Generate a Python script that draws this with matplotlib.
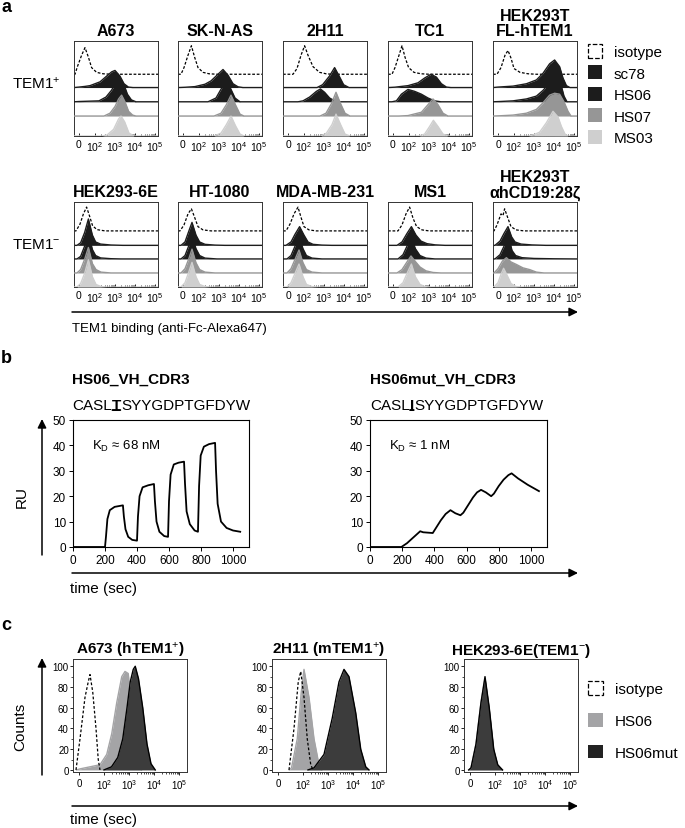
import numpy as np
import matplotlib
matplotlib.use("Agg")
import matplotlib.pyplot as plt
from matplotlib.patches import Patch

plt.rcParams['font.family'] = ['Liberation Sans', 'DejaVu Sans']
plt.rcParams['mathtext.fontset'] = 'custom'
plt.rcParams['mathtext.rm'] = 'Liberation Sans'
plt.rcParams['mathtext.it'] = 'Liberation Sans:italic'
plt.rcParams['mathtext.bf'] = 'Liberation Sans:bold'

# ---------------- data: panel a (flow histograms, x in decades, height in lane units)
a_series = ['isotype', 'sc78', 'HS06', 'HS07', 'MS03']
a_titles = ['A673', 'SK-N-AS', '2H11', 'TC1', 'HEK293T\nFL-hTEM1',
            'HEK293-6E', 'HT-1080', 'MDA-MB-231', 'MS1', 'HEK293T\nαhCD19:28ζ']
flow_ticklabels = ['0', '$10^2$', '$10^3$', '$10^4$', '$10^5$']

a673 = {
    'isotype': [(1.0, 0), (1.12, 0.08), (1.33, 0.2), (1.5, 0.28), (1.67, 0.18), (1.83, 0.07), (2.08, 0.02), (2.4, 0.005), (2.8, 0)],
    'sc78': [(1.2, 0.005), (1.5, 0.012), (1.75, 0.02), (2.25, 0.06), (2.58, 0.12), (2.83, 0.165), (3.0, 0.18), (3.25, 0.12), (3.45, 0.04), (3.67, 0.005), (3.9, 0)],
    'HS06': [(1.2, 0.003), (2.2, 0.01), (2.55, 0.05), (2.82, 0.12), (3.05, 0.2), (3.25, 0.23), (3.45, 0.18), (3.62, 0.08), (3.82, 0.02), (4.05, 0)],
    'HS07': [(2.45, 0), (2.75, 0.03), (3.0, 0.1), (3.18, 0.18), (3.33, 0.22), (3.5, 0.15), (3.68, 0.05), (3.88, 0.01), (4.05, 0)],
    'MS03': [(2.35, 0), (2.6, 0.01), (2.93, 0.07), (3.18, 0.18), (3.3, 0.21), (3.48, 0.15), (3.7, 0.03), (3.95, 0)],
}
sknas = {
    'isotype': [(1.1, 0), (1.25, 0.07), (1.45, 0.2), (1.62, 0.3), (1.78, 0.18), (1.95, 0.07), (2.2, 0.02), (2.5, 0.005), (2.9, 0)],
    'sc78': [(1.3, 0.003), (1.8, 0.01), (2.3, 0.035), (2.6, 0.07), (2.95, 0.14), (3.2, 0.19), (3.45, 0.13), (3.7, 0.04), (3.95, 0.008), (4.2, 0)],
    'HS06': [(2.45, 0), (2.85, 0.04), (3.12, 0.14), (3.35, 0.25), (3.58, 0.14), (3.8, 0.04), (4.05, 0)],
    'HS07': [(2.75, 0), (3.1, 0.03), (3.37, 0.12), (3.6, 0.22), (3.82, 0.12), (4.05, 0.02), (4.25, 0)],
    'MS03': [(2.75, 0), (3.1, 0.03), (3.37, 0.12), (3.6, 0.21), (3.82, 0.11), (4.05, 0.02), (4.25, 0)],
}
h2h11 = {
    'isotype': [(1.45, 0), (1.65, 0.06), (1.85, 0.2), (2.03, 0.3), (2.2, 0.2), (2.45, 0.08), (2.78, 0.02), (3.1, 0.005), (3.4, 0)],
    'sc78': [(2.65, 0), (2.93, 0.03), (3.27, 0.12), (3.53, 0.21), (3.76, 0.12), (3.98, 0.03), (4.25, 0)],
    'HS06': [(1.7, 0), (1.95, 0.01), (2.28, 0.05), (2.62, 0.11), (2.82, 0.135), (3.03, 0.1), (3.28, 0.04), (3.53, 0.01), (3.8, 0)],
    'HS07': [(2.8, 0), (3.1, 0.03), (3.37, 0.13), (3.6, 0.25), (3.83, 0.13), (4.05, 0.03), (4.3, 0)],
    'MS03': [(2.85, 0), (3.12, 0.03), (3.4, 0.12), (3.6, 0.23), (3.83, 0.12), (4.05, 0.02), (4.3, 0)],
}
tc1 = {
    'isotype': [(1.15, 0), (1.3, 0.07), (1.5, 0.2), (1.65, 0.3), (1.8, 0.18), (1.98, 0.07), (2.25, 0.02), (2.6, 0.005), (3.0, 0)],
    'sc78': [(1.3, 0.004), (1.95, 0.02), (2.45, 0.05), (2.78, 0.1), (3.1, 0.14), (3.37, 0.11), (3.62, 0.04), (3.87, 0.005), (4.1, 0)],
    'HS06': [(1.15, 0), (1.37, 0.01), (1.62, 0.08), (1.95, 0.13), (2.28, 0.11), (2.62, 0.08), (2.95, 0.04), (3.28, 0.01), (3.6, 0)],
    'HS07': [(1.5, 0), (1.95, 0.005), (2.62, 0.04), (2.95, 0.12), (3.2, 0.18), (3.45, 0.12), (3.7, 0.03), (3.95, 0)],
    'MS03': [(2.5, 0), (2.78, 0.02), (3.03, 0.1), (3.22, 0.165), (3.45, 0.1), (3.7, 0.02), (3.95, 0)],
}
hek_fl = {
    'isotype': [(1.15, 0), (1.35, 0.07), (1.55, 0.2), (1.7, 0.25), (1.85, 0.17), (2.0, 0.06), (2.3, 0.02), (2.7, 0.005), (3.1, 0)],
    'sc78': [(1.2, 0.005), (1.95, 0.015), (2.62, 0.04), (3.12, 0.08), (3.45, 0.15), (3.78, 0.25), (4.03, 0.29), (4.28, 0.22), (4.45, 0.1), (4.62, 0.02), (4.8, 0)],
    'HS06': [(1.3, 0.003), (1.95, 0.01), (2.62, 0.03), (3.12, 0.06), (3.45, 0.12), (3.78, 0.2), (4.1, 0.25), (4.35, 0.18), (4.5, 0.06), (4.65, 0)],
    'HS07': [(1.3, 0.003), (1.95, 0.01), (2.62, 0.03), (3.12, 0.07), (3.45, 0.14), (3.78, 0.22), (4.03, 0.24), (4.28, 0.23), (4.5, 0.15), (4.7, 0.05), (4.85, 0)],
    'MS03': [(2.7, 0), (2.95, 0.01), (3.28, 0.04), (3.62, 0.14), (3.95, 0.26), (4.2, 0.2), (4.37, 0.1), (4.55, 0.02), (4.7, 0)],
}
hek6e = {
    'isotype': [(1.05, 0), (1.25, 0.08), (1.42, 0.2), (1.58, 0.28), (1.72, 0.18), (1.88, 0.06), (2.1, 0.015), (2.5, 0)],
    'sc78': [(1.1, 0), (1.28, 0.03), (1.48, 0.15), (1.67, 0.31), (1.87, 0.12), (2.03, 0.04), (2.28, 0.015), (2.8, 0.004), (3.4, 0)],
    'HS06': [(1.1, 0), (1.28, 0.03), (1.48, 0.15), (1.67, 0.3), (1.87, 0.11), (2.03, 0.04), (2.28, 0.012), (2.8, 0.003), (3.3, 0)],
    'HS07': [(1.1, 0), (1.28, 0.04), (1.48, 0.16), (1.67, 0.3), (1.87, 0.11), (2.05, 0.04), (2.3, 0.01), (2.8, 0)],
    'MS03': [(1.1, 0), (1.28, 0.04), (1.48, 0.16), (1.67, 0.32), (1.87, 0.12), (2.05, 0.03), (2.3, 0.005), (2.6, 0)],
}
ht1080 = {
    'isotype': [(1.05, 0), (1.25, 0.07), (1.45, 0.2), (1.62, 0.26), (1.78, 0.16), (1.95, 0.05), (2.2, 0.012), (2.6, 0)],
    'sc78': [(1.1, 0), (1.3, 0.04), (1.48, 0.16), (1.65, 0.27), (1.85, 0.12), (2.03, 0.04), (2.3, 0.012), (2.8, 0.003), (3.3, 0)],
    'HS06': [(1.1, 0), (1.3, 0.04), (1.48, 0.15), (1.65, 0.27), (1.85, 0.12), (2.03, 0.04), (2.3, 0.01), (2.9, 0)],
    'HS07': [(1.1, 0), (1.3, 0.05), (1.48, 0.16), (1.65, 0.28), (1.85, 0.12), (2.03, 0.04), (2.3, 0.01), (2.8, 0)],
    'MS03': [(1.1, 0), (1.3, 0.05), (1.48, 0.17), (1.65, 0.29), (1.85, 0.12), (2.03, 0.03), (2.3, 0.005), (2.6, 0)],
}
mdamb231 = {
    'isotype': [(1.1, 0), (1.3, 0.08), (1.5, 0.2), (1.7, 0.28), (1.85, 0.16), (2.0, 0.05), (2.25, 0.012), (2.6, 0)],
    'sc78': [(1.1, 0), (1.35, 0.04), (1.55, 0.13), (1.78, 0.22), (2.0, 0.12), (2.2, 0.04), (2.45, 0.012), (2.9, 0.003), (3.4, 0)],
    'HS06': [(1.15, 0), (1.35, 0.04), (1.55, 0.15), (1.75, 0.26), (1.95, 0.12), (2.12, 0.04), (2.4, 0.01), (2.9, 0)],
    'HS07': [(1.15, 0), (1.35, 0.05), (1.55, 0.16), (1.75, 0.27), (1.95, 0.12), (2.12, 0.04), (2.4, 0.01), (2.9, 0)],
    'MS03': [(1.15, 0), (1.35, 0.05), (1.55, 0.16), (1.75, 0.27), (1.95, 0.12), (2.12, 0.03), (2.4, 0.005), (2.7, 0)],
}
ms1 = {
    'isotype': [(1.45, 0), (1.65, 0.07), (1.85, 0.2), (2.03, 0.28), (2.2, 0.15), (2.38, 0.05), (2.65, 0.012), (3.0, 0)],
    'sc78': [(1.4, 0), (1.65, 0.04), (1.9, 0.14), (2.12, 0.22), (2.35, 0.12), (2.6, 0.05), (2.9, 0.02), (3.3, 0.006), (3.8, 0)],
    'HS06': [(1.45, 0), (1.7, 0.05), (1.92, 0.16), (2.12, 0.25), (2.32, 0.12), (2.55, 0.04), (2.85, 0.01), (3.3, 0)],
    'HS07': [(1.4, 0), (1.65, 0.04), (1.9, 0.13), (2.1, 0.2), (2.3, 0.14), (2.55, 0.07), (2.85, 0.025), (3.2, 0.006), (3.6, 0)],
    'MS03': [(1.45, 0), (1.7, 0.05), (1.92, 0.17), (2.12, 0.27), (2.32, 0.12), (2.55, 0.03), (2.8, 0.005), (3.1, 0)],
}
hek_cd19 = {
    'isotype': [(1.0, 0), (1.15, 0.07), (1.35, 0.2), (1.45, 0.18), (1.53, 0.26), (1.68, 0.16), (1.85, 0.05), (2.1, 0.012), (2.5, 0)],
    'sc78': [(1.05, 0), (1.3, 0.05), (1.5, 0.14), (1.7, 0.22), (1.88, 0.1), (2.05, 0.04), (2.35, 0.015), (2.9, 0.005), (3.6, 0)],
    'HS06': [(1.05, 0), (1.3, 0.05), (1.5, 0.15), (1.72, 0.27), (1.9, 0.1), (2.08, 0.04), (2.4, 0.015), (3.0, 0.006), (4.0, 0.002), (5.1, 0)],
    'HS07': [(1.0, 0), (1.2, 0.05), (1.42, 0.14), (1.62, 0.18), (1.85, 0.13), (2.12, 0.1), (2.45, 0.06), (2.78, 0.04), (3.12, 0.01), (3.5, 0)],
    'MS03': [(1.0, 0), (1.2, 0.05), (1.35, 0.15), (1.48, 0.22), (1.65, 0.14), (1.85, 0.04), (2.1, 0.005), (2.4, 0)],
}
a_panels = [a673, sknas, h2h11, tc1, hek_fl, hek6e, ht1080, mdamb231, ms1, hek_cd19]

# ---------------- data: panel b (SPR sensorgrams)
t_hs06 = [0, 200, 206, 215, 230, 260, 312, 318, 328, 345, 370, 400, 406, 416, 435, 470, 506, 512, 522, 540,
          570, 594, 600, 610, 630, 660, 694, 700, 710, 730, 760, 781, 788, 798, 818, 850, 888, 894, 904, 925,
          960, 1000, 1045]
ru_hs06 = [0, 0, 4, 11, 14.5, 15.8, 16.4, 12, 7, 4, 2.8, 2.5, 12, 20, 23.5, 24.3, 24.8, 18, 10, 6,
           4.3, 4, 18, 28.5, 32.5, 33.2, 33.6, 25, 14, 9, 6.5, 6, 24, 36, 39.5, 40.5, 41, 30, 17, 10,
           7.5, 6.5, 6]
t_hs06mut = [0, 195, 230, 270, 312, 330, 390, 410, 440, 470, 500, 530, 562, 580, 610, 640, 665, 690, 720,
             753, 770, 800, 830, 860, 880, 920, 980, 1050]
ru_hs06mut = [0, 0, 1.5, 3.8, 6.2, 5.8, 5.5, 7.5, 10.5, 13, 14.5, 13.3, 12.5, 13.5, 16.5, 19.5, 21.5, 22.5, 21.5,
              20, 21, 24, 26.5, 28.3, 29, 27, 24.5, 22]

# ---------------- data: panel c (flow overlays, counts)
c_titles = ['A673 (hTEM1$^{+}$)', '2H11 (mTEM1$^{+}$)', 'HEK293-6E(TEM1$^{-}$)']
c_a673 = {
    'HS06': [(0.9, 0), (1.04, 1), (1.84, 5), (2.11, 15), (2.31, 35), (2.51, 65), (2.71, 90), (2.84, 95), (2.97, 93), (3.11, 60), (3.24, 25), (3.37, 5), (3.5, 0)],
    'HS06mut': [(2.0, 0), (2.3, 3), (2.55, 12), (2.75, 30), (2.92, 60), (3.05, 85), (3.17, 97), (3.25, 100), (3.38, 88), (3.55, 60), (3.72, 25), (3.88, 6), (4.05, 0)],
    'isotype': [(0.88, 0), (1.04, 30), (1.24, 70), (1.37, 85), (1.44, 92), (1.55, 75), (1.68, 40), (1.77, 10), (1.84, 0)],
}
c_2h11 = {
    'HS06': [(1.45, 0), (1.54, 2), (1.77, 30), (1.93, 75), (2.04, 97), (2.24, 70), (2.44, 30), (2.64, 5), (2.75, 0)],
    'HS06mut': [(2.2, 0), (2.44, 2), (2.84, 15), (3.17, 50), (3.44, 85), (3.64, 97), (3.84, 90), (4.11, 55), (4.31, 20), (4.51, 3), (4.64, 0)],
    'isotype': [(1.44, 0), (1.64, 40), (1.81, 85), (1.91, 95), (2.04, 70), (2.17, 30), (2.31, 5), (2.4, 0)],
}
c_hek6e = {
    'HS06': [(0.95, 0), (1.04, 2), (1.24, 25), (1.44, 65), (1.6, 88), (1.77, 58), (1.95, 18), (2.11, 4), (2.3, 0)],
    'HS06mut': [(0.95, 0), (1.04, 2), (1.24, 25), (1.44, 65), (1.6, 90), (1.77, 60), (1.95, 20), (2.11, 5), (2.3, 0)],
    'isotype': [(0.95, 0), (1.1, 5), (1.3, 35), (1.5, 75), (1.6, 85), (1.75, 55), (1.92, 15), (2.1, 2), (2.25, 0)],
}
c_panels = [c_a673, c_2h11, c_hek6e]

# ---------------- layout helpers (pixels of a 685 x 829 figure)
W, H = 685, 829


def box(l, t, r, b):
    return [l / W, 1 - b / H, (r - l) / W, (b - t) / H]


fig = plt.figure(figsize=(W / 100, H / 100), dpi=100)

a_colors = {'sc78': '#1c1c1c', 'HS06': '#1c1c1c', 'HS07': '#969696', 'MS03': '#cfcfcf'}
a_offsets = [[0.65, 0.51, 0.36, 0.21, 0.0], [0.66, 0.49, 0.33, 0.165, 0.0]]
A_XLIM = (0.95, 5.15)
a_lefts = [74, 178, 283, 388, 493]
a_rows = [(42, 137), (203, 288)]
minor_log = [k + np.log10(m) for k in (2, 3, 4) for m in range(2, 10)]

for i, curves in enumerate(a_panels):
    row, col = divmod(i, 5)
    top, bottom = a_rows[row]
    ax = fig.add_axes(box(a_lefts[col], top, a_lefts[col] + 84, bottom))
    for z, (s, off) in enumerate(zip(a_series, a_offsets[row])):
        pts = curves[s]
        xs = [A_XLIM[0]] + [p[0] for p in pts] + [A_XLIM[1]]
        ys = off + np.array([0] + [p[1] for p in pts] + [0])
        if s == 'isotype':
            ax.plot(xs, ys, color='k', lw=0.9, dashes=(2.2, 1.4), zorder=z + 1)
        else:
            ax.fill_between(xs, off, ys, color=a_colors[s], lw=0, zorder=z + 1)
            ax.plot(xs, ys, color=a_colors[s], lw=1.0, zorder=z + 1)
    ax.set_xlim(*A_XLIM)
    ax.set_ylim(0, 1)
    ax.set_yticks([])
    ax.set_xticks([1.2, 2, 3, 4, 5])
    ax.set_xticklabels(flow_ticklabels, fontsize=7.5)
    ax.set_xticks(minor_log, minor=True)
    ax.tick_params(axis='x', which='major', direction='in', length=2, width=0.6, pad=2.5)
    ax.tick_params(axis='x', which='minor', direction='in', length=1.2, width=0.5)
    for sp in ax.spines.values():
        sp.set_linewidth(0.7)
        sp.set_color('#333333')
    ax.set_title(a_titles[i], fontsize=11.5, fontweight='bold', pad=4, linespacing=1.05)

a_handles = [Patch(facecolor='white', edgecolor='k', linestyle='--', lw=0.9),
             Patch(facecolor='#1c1c1c'), Patch(facecolor='#1c1c1c'),
             Patch(facecolor='#969696'), Patch(facecolor='#cfcfcf')]
fig.legend(a_handles, a_series, loc='upper left', bbox_to_anchor=(588 / W, 1 - 45 / H),
           frameon=False, fontsize=11, handlelength=0.9, handleheight=1.0,
           labelspacing=0.42, handletextpad=0.8, borderpad=0, borderaxespad=0)

# ---------------- panel b
b_sets = [(t_hs06, ru_hs06, (73, 421, 249, 548), 'K$_\\mathregular{D}$ ≈ 68 nM'),
          (t_hs06mut, ru_hs06mut, (370, 421, 547, 548), 'K$_\\mathregular{D}$ ≈ 1 nM')]
for t, ru, rect, kd in b_sets:
    ax = fig.add_axes(box(*rect))
    ax.plot(t, ru, color='k', lw=1.3)
    ax.set_xlim(0, 1100)
    ax.set_ylim(0, 50)
    ax.set_xticks(range(0, 1001, 200))
    ax.set_yticks(range(0, 51, 10))
    ax.tick_params(labelsize=8.5, length=3, width=0.7, pad=2)
    for sp in ax.spines.values():
        sp.set_linewidth(0.8)
    ax.text(0.11, 0.8, kd, transform=ax.transAxes, fontsize=9.5, va='center')

# ---------------- panel c
c_colors = {'HS06': '#a4a4a6', 'HS06mut': '#3c3c3c'}
C_XLIM = (0.76, 5.32)
c_lefts = [73, 272, 464]
for i, curves in enumerate(c_panels):
    ax = fig.add_axes(box(c_lefts[i], 660, c_lefts[i] + 114, 773))
    for z, s in enumerate(['HS06', 'HS06mut']):
        pts = curves[s]
        xs = [p[0] for p in pts]
        ys = [p[1] for p in pts]
        ax.fill_between(xs, 0, ys, color=c_colors[s], lw=0, zorder=2 * z + 1)
        ax.plot(xs, ys, color='k' if s == 'HS06mut' else c_colors[s], lw=1.0, zorder=2 * z + 2)
    if i < 2:
        pts = curves['isotype']
        ax.plot([p[0] for p in pts], [p[1] for p in pts], color='k', lw=0.9,
                dashes=(2.2, 1.6), zorder=6)
    ax.set_xlim(*C_XLIM)
    ax.set_ylim(-2, 107)
    ax.set_xticks([1, 2, 3, 4, 5])
    ax.set_xticklabels(flow_ticklabels, fontsize=7)
    ax.set_xticks(minor_log, minor=True)
    ax.set_yticks(range(0, 101, 20))
    ax.set_yticks(range(0, 101, 10), minor=True)
    ax.tick_params(axis='y', labelsize=7, length=2, width=0.6, pad=1)
    ax.tick_params(axis='x', length=2, width=0.6, pad=2)
    ax.tick_params(which='minor', length=1.2, width=0.5)
    for sp in ax.spines.values():
        sp.set_linewidth(0.7)
        sp.set_color('#333333')
    ax.set_title(c_titles[i], fontsize=11, fontweight='bold', pad=3)

c_handles = [Patch(facecolor='white', edgecolor='k', linestyle='--', lw=0.9),
             Patch(facecolor='#a4a4a6'), Patch(facecolor='#222222')]
fig.legend(c_handles, ['isotype', 'HS06', 'HS06mut'], loc='upper left',
           bbox_to_anchor=(588 / W, 1 - 682 / H), frameon=False, fontsize=11,
           handlelength=0.95, handleheight=1.0, labelspacing=1.1,
           handletextpad=0.8, borderpad=0, borderaxespad=0)

# ---------------- overlay: panel letters, arrows and free text
ov = fig.add_axes([0, 0, 1, 1])
ov.set_xlim(0, W)
ov.set_ylim(H, 0)
ov.axis('off')
arrow = dict(arrowstyle='-|>', color='k', lw=1.1, mutation_scale=13, shrinkA=0, shrinkB=0)

for letter, y in [('a', 7), ('b', 358), ('c', 626)]:
    ov.text(1, y, letter, fontsize=13, fontweight='bold', va='center')

ov.text(12, 84, 'TEM1$^{+}$', fontsize=11, va='center')
ov.text(12, 245, 'TEM1$^{-}$', fontsize=11, va='center')
ov.annotate('', xy=(578, 313), xytext=(72, 313), arrowprops=arrow)
ov.text(72, 329, 'TEM1 binding (anti-Fc-Alexa647)', fontsize=9.5, va='center')

# panel b headers with the underlined residue
for x0, title, pre, res, post in [(72, 'HS06_VH_CDR3', 'CASL', 'T', 'SYYGDPTGFDYW'),
                                  (370, 'HS06mut_VH_CDR3', 'CASL', 'I', 'SYYGDPTGFDYW')]:
    ov.text(x0, 380, title, fontsize=11, fontweight='bold', va='center')
    t1 = ov.text(x0, 410, pre, fontsize=11, va='baseline')
    t2 = ov.annotate(res, xy=(1, 0), xycoords=t1, fontsize=11, fontweight='bold',
                     va='bottom', ha='left')
    ov.annotate(post, xy=(1, 0), xycoords=t2, fontsize=11, va='bottom', ha='left')
    ov.annotate('', xy=(0.92, 0.14), xycoords=t2, xytext=(0.08, 0.14), textcoords=t2,
                arrowprops=dict(arrowstyle='-', lw=1.4, color='k', shrinkA=0, shrinkB=0))

ov.annotate('', xy=(42, 420), xytext=(42, 556), arrowprops=arrow)
ov.text(22, 497, 'RU', fontsize=11, rotation=90, ha='center', va='center')
ov.annotate('', xy=(578, 574), xytext=(72, 574), arrowprops=arrow)
ov.text(70, 589, 'time (sec)', fontsize=11, va='center')

ov.annotate('', xy=(42, 659), xytext=(42, 776), arrowprops=arrow)
ov.text(20, 727, 'Counts', fontsize=11, rotation=90, ha='center', va='center')
ov.annotate('', xy=(578, 807), xytext=(72, 807), arrowprops=arrow)
ov.text(70, 820, 'time (sec)', fontsize=11, va='center')

fig.savefig('out.png', dpi=100)
